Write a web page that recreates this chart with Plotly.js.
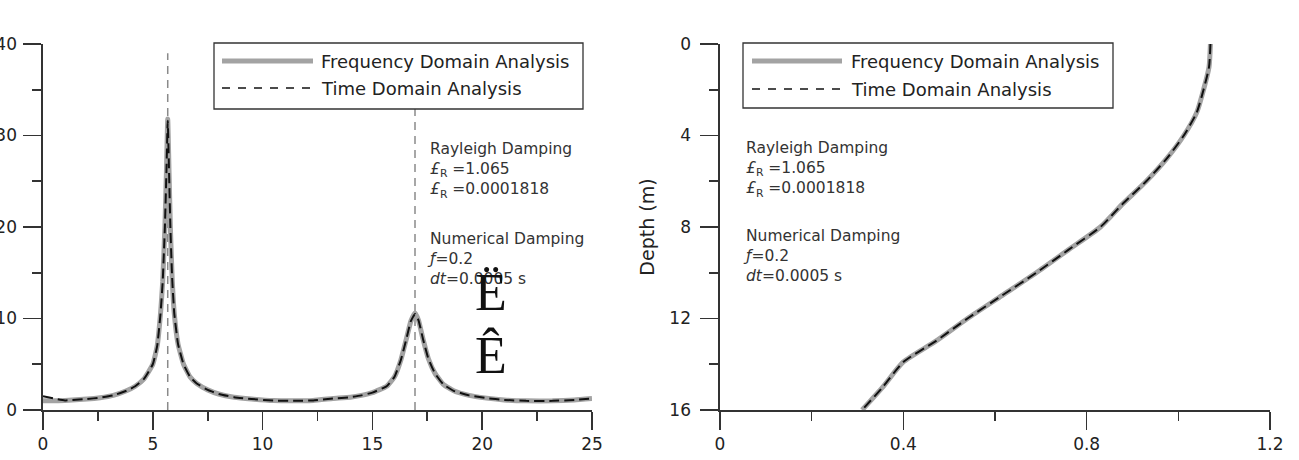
<!DOCTYPE html>
<html>
<head>
<meta charset="utf-8">
<script src="https://cdn.plot.ly/plotly-3.0.1.min.js"></script>
<style>html,body{margin:0;padding:0;background:#fff;}#chart{width:1299px;height:460px;}</style>
</head>
<body>
<div id="chart"></div>
<script>
// ---------- data ----------
const freqHz = [0, 1, 2, 2.6, 3.2, 3.8, 4.2, 4.6, 5.0, 5.2, 5.35, 5.45, 5.55, 5.62, 5.68, 5.74, 5.8, 5.88, 5.98, 6.15, 6.4, 6.7, 7.0, 7.5, 8.0, 8.7, 9.5, 10.5, 11.4, 12.3, 13.2, 14.0, 14.5, 15.0, 15.65, 16.0, 16.3, 16.55, 16.75, 16.94, 17.1, 17.3, 17.55, 17.85, 18.23, 18.7, 19.4, 20.2, 21.0, 22.0, 23.2, 24.2, 25];
const ampFreqDomain = [1.0, 1.05, 1.2, 1.35, 1.6, 2.1, 2.6, 3.4, 5.0, 7.0, 10.5, 14.0, 20.0, 26.0, 31.8, 26.0, 20.0, 14.5, 10.5, 7.2, 5.0, 3.6, 2.9, 2.2, 1.75, 1.4, 1.2, 1.03, 1.0, 1.05, 1.25, 1.4, 1.6, 1.9, 2.6, 3.6, 5.5, 7.8, 9.7, 10.6, 9.8, 7.8, 5.6, 4.0, 2.8, 2.1, 1.6, 1.3, 1.1, 1.0, 1.0, 1.1, 1.25];
const ampTimeDomain = [1.5, 1.05, 1.2, 1.35, 1.6, 2.1, 2.6, 3.4, 5.0, 7.0, 10.5, 14.0, 20.0, 26.0, 31.6, 26.0, 20.0, 14.5, 10.5, 7.2, 5.0, 3.6, 2.9, 2.2, 1.75, 1.4, 1.2, 1.03, 1.0, 1.05, 1.25, 1.4, 1.6, 1.9, 2.6, 3.6, 5.5, 7.8, 9.7, 10.5, 9.8, 7.8, 5.6, 4.0, 2.8, 2.1, 1.6, 1.3, 1.1, 1.0, 1.0, 1.1, 1.25];
const resonanceFreqs = [5.68, 16.94];
const resonanceLineTop = 39;

const depthM = [0, 1, 2, 3, 4, 5, 6, 7, 8, 9, 10, 11, 12, 13, 13.9, 15, 16];
const accFreqDomain = [1.07, 1.067, 1.055, 1.04, 1.012, 0.975, 0.93, 0.878, 0.83, 0.76, 0.69, 0.615, 0.54, 0.47, 0.40, 0.355, 0.31];
const accTimeDomain = [1.07, 1.067, 1.055, 1.04, 1.012, 0.975, 0.93, 0.878, 0.83, 0.76, 0.69, 0.615, 0.54, 0.47, 0.40, 0.355, 0.31];

const legendNames = ['Frequency Domain Analysis', 'Time Domain Analysis'];
const leftXTicks = [0, 5, 10, 15, 20, 25];
const leftYTicks = [0, 10, 20, 30, 40];
const rightXTicks = [0, 0.4, 0.8, 1.2];
const rightYTicks = [0, 4, 8, 12, 16];

// ---------- styling ----------
const FONT = 'DejaVu Sans, Verdana, sans-serif';
const AX = '#333333';
const GRAY = '#a3a3a3';
const W = 1299, H = 460, ML = 43, MR = 29, MT = 44, MB = 50;
const PW = W - ML - MR, PH = H - MT - MB;
const px = x => (x - ML) / PW;        // pixel -> paper x
const py = y => (H - MB - y) / PH;    // pixel -> paper y

const traces = [];
resonanceFreqs.forEach(f => traces.push({
  x: [f, f], y: [0, resonanceLineTop], xaxis: 'x', yaxis: 'y', mode: 'lines',
  line: {color: '#8a8a8a', width: 1.5, dash: '8px,6px'}, showlegend: false, hoverinfo: 'skip'
}));
traces.push({x: freqHz, y: ampFreqDomain, xaxis: 'x', yaxis: 'y', mode: 'lines', name: legendNames[0],
  line: {color: GRAY, width: 5, shape: 'spline', smoothing: 0.4}, showlegend: false});
traces.push({x: freqHz, y: ampTimeDomain, xaxis: 'x', yaxis: 'y', mode: 'lines', name: legendNames[1],
  line: {color: '#111', width: 2, dash: '10px,5px', shape: 'spline', smoothing: 0.4}, showlegend: false});
traces.push({x: accFreqDomain, y: depthM, xaxis: 'x2', yaxis: 'y2', mode: 'lines', name: legendNames[0],
  line: {color: GRAY, width: 5, shape: 'spline', smoothing: 0.6}, showlegend: false});
traces.push({x: accTimeDomain, y: depthM, xaxis: 'x2', yaxis: 'y2', mode: 'lines', name: legendNames[1],
  line: {color: '#111', width: 2, dash: '10px,5px', shape: 'spline', smoothing: 0.6}, showlegend: false});

function axis(extra) {
  return Object.assign({
    showline: true, linecolor: AX, linewidth: 1.6, showgrid: false, zeroline: false,
    ticks: 'outside', ticklen: 18, tickwidth: 1.6, tickcolor: AX,
    tickfont: {family: FONT, size: 17, color: '#222'},
    fixedrange: true
  }, extra);
}

// legend built from shapes + annotations
const shapes = [], annotations = [];
function legendBox(x0, x1, y0, y1, lx0, lx1, tx, ly1, ly2) {
  shapes.push({type: 'rect', xref: 'paper', yref: 'paper', x0: px(x0), x1: px(x1), y0: py(y1), y1: py(y0),
    line: {color: AX, width: 1.3}, fillcolor: 'rgba(255,255,255,1)', layer: 'above'});
  shapes.push({type: 'line', xref: 'paper', yref: 'paper', x0: px(lx0), x1: px(lx1), y0: py(ly1), y1: py(ly1),
    line: {color: GRAY, width: 5}});
  shapes.push({type: 'line', xref: 'paper', yref: 'paper', x0: px(lx0), x1: px(lx1), y0: py(ly2), y1: py(ly2),
    line: {color: '#111', width: 1.5, dash: '8px,8px'}});
  [[legendNames[0], ly1], [legendNames[1], ly2]].forEach(([t, yy]) => annotations.push({
    xref: 'paper', yref: 'paper', x: px(tx), y: py(yy), text: t, showarrow: false,
    xanchor: 'left', yanchor: 'middle', font: {family: FONT, size: 18, color: '#222'}
  }));
}
legendBox(214, 583, 43, 109, 222, 313, 319, 61, 88);
legendBox(743, 1113, 43, 108, 752, 842, 849, 61, 89);

function infoBlock(x, yc1, yc2) {
  annotations.push({xref: 'paper', yref: 'paper', x: px(x), y: py(yc1), xanchor: 'left', yanchor: 'middle', align: 'left',
    showarrow: false, font: {family: FONT, size: 15.5, color: '#333'},
    text: 'Rayleigh Damping<br><i>£</i><sub>R</sub> =1.065<br><i>£</i><sub>R</sub> =0.0001818'});
  annotations.push({xref: 'paper', yref: 'paper', x: px(x - 3), y: py(yc2), xanchor: 'left', yanchor: 'middle', align: 'left',
    showarrow: false, font: {family: FONT, size: 15.5, color: '#333'},
    text: 'Numerical Damping<br><i>ƒ</i>=0.2<br><i>dt</i>=0.0005 s'});
}
infoBlock(428, 170, 259);
infoBlock(744, 169, 256);

// stray glyphs visible in the reference
annotations.push({xref: 'paper', yref: 'paper', x: px(491), y: py(292), text: 'Ë', showarrow: false,
  xanchor: 'center', yanchor: 'middle', font: {family: 'Liberation Serif, DejaVu Serif, serif', size: 52, color: '#111'}});
annotations.push({xref: 'paper', yref: 'paper', x: px(491), y: py(355), text: 'Ê', showarrow: false,
  xanchor: 'center', yanchor: 'middle', font: {family: 'Liberation Serif, DejaVu Serif, serif', size: 52, color: '#111'}});

const layout = {
  width: W, height: H,
  margin: {l: ML, r: MR, t: MT, b: MB, pad: 0},
  paper_bgcolor: '#fff', plot_bgcolor: '#fff',
  showlegend: false,
  font: {family: FONT, color: '#222'},
  xaxis: axis({domain: [0, (592 - ML) / PW], range: [0, 25], tickvals: leftXTicks, ticktext: leftXTicks.map(String),
    minor: {dtick: 2.5, ticklen: 9, tickwidth: 1.6, tickcolor: AX, ticks: 'outside', showgrid: false}, anchor: 'y'}),
  yaxis: axis({domain: [0, 1], range: [0, 40], tickvals: leftYTicks, ticktext: leftYTicks.map(String),
    ticklabelstandoff: 3,
    minor: {dtick: 5, ticklen: 9, tickwidth: 1.6, tickcolor: AX, ticks: 'outside', showgrid: false}, anchor: 'x'}),
  xaxis2: axis({domain: [(720 - ML) / PW, 1], range: [0, 1.2], tickvals: rightXTicks, ticktext: rightXTicks.map(String),
    minor: {dtick: 0.2, ticklen: 9, tickwidth: 1.6, tickcolor: AX, ticks: 'outside', showgrid: false}, anchor: 'y2'}),
  yaxis2: axis({domain: [0, 1], range: [16, 0], tickvals: rightYTicks, ticktext: rightYTicks.map(String),
    ticklabelstandoff: 6,
    minor: {dtick: 2, ticklen: 9, tickwidth: 1.6, tickcolor: AX, ticks: 'outside', showgrid: false}, anchor: 'x2',
    title: {text: 'Depth (m)', font: {family: FONT, size: 19, color: '#222'}, standoff: 10}}),
  shapes: shapes,
  annotations: annotations
};

Plotly.newPlot('chart', traces, layout, {staticPlot: true, displayModeBar: false});
</script>
</body>
</html>
